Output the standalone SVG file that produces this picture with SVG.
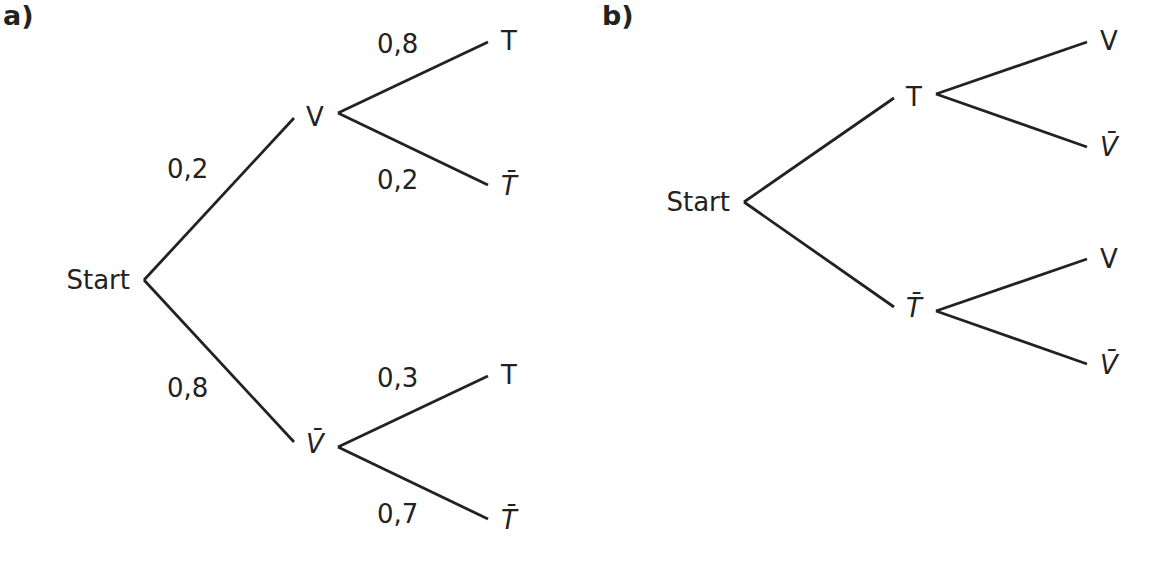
<svg xmlns="http://www.w3.org/2000/svg" width="1152" height="564" viewBox="0 0 1152 564">
<style>
text{font-family:"DejaVu Sans","Liberation Sans",sans-serif;font-size:26px;fill:#222222}
.it{font-style:italic}
.hd{font-weight:bold;font-size:27px}
.e{stroke:#222222;stroke-width:2.8;fill:none;stroke-linecap:butt}
</style>
<rect width="1152" height="564" fill="#ffffff"/>
<g id="connectors">
<line class="e" x1="144" y1="280" x2="294" y2="118"/>
<line class="e" x1="144" y1="280" x2="294" y2="442"/>
<line class="e" x1="338" y1="113" x2="488" y2="42"/>
<line class="e" x1="338" y1="113" x2="488" y2="185"/>
<line class="e" x1="338" y1="447" x2="488" y2="376"/>
<line class="e" x1="338" y1="447" x2="488" y2="519"/>
<line class="e" x1="744" y1="202" x2="894" y2="98"/>
<line class="e" x1="744" y1="202" x2="894" y2="307"/>
<line class="e" x1="936" y1="94" x2="1087" y2="42"/>
<line class="e" x1="936" y1="94" x2="1087" y2="147"/>
<line class="e" x1="936" y1="311" x2="1087" y2="259"/>
<line class="e" x1="936" y1="311" x2="1087" y2="364"/>
</g>
<g id="labels">
<text class="hd" x="3" y="25">a)</text>
<text class="hd" x="602" y="25">b)</text>
<text x="167" y="178">0,2</text>
<text x="167" y="397">0,8</text>
<text x="377" y="53">0,8</text>
<text x="377" y="189">0,2</text>
<text x="377" y="387">0,3</text>
<text x="377" y="523">0,7</text>
</g>
<g id="a-start"><text x="130" y="289" text-anchor="end">Start</text></g>
<g id="a-V"><text x="306" y="126">V</text></g>
<g id="a-Vbar"><text class="it" x="306" y="453">V̄</text></g>
<g id="a-V-T"><text x="501" y="50">T</text></g>
<g id="a-V-Tbar"><text class="it" x="501" y="195">T̄</text></g>
<g id="a-Vbar-T"><text x="501" y="384">T</text></g>
<g id="a-Vbar-Tbar"><text class="it" x="501" y="529">T̄</text></g>
<g id="b-start"><text x="730" y="211" text-anchor="end">Start</text></g>
<g id="b-T"><text x="906" y="106">T</text></g>
<g id="b-Tbar"><text class="it" x="906" y="317">T̄</text></g>
<g id="b-T-V"><text x="1100" y="50">V</text></g>
<g id="b-T-Vbar"><text class="it" x="1100" y="156">V̄</text></g>
<g id="b-Tbar-V"><text x="1100" y="268">V</text></g>
<g id="b-Tbar-Vbar"><text class="it" x="1100" y="374">V̄</text></g>
</svg>
